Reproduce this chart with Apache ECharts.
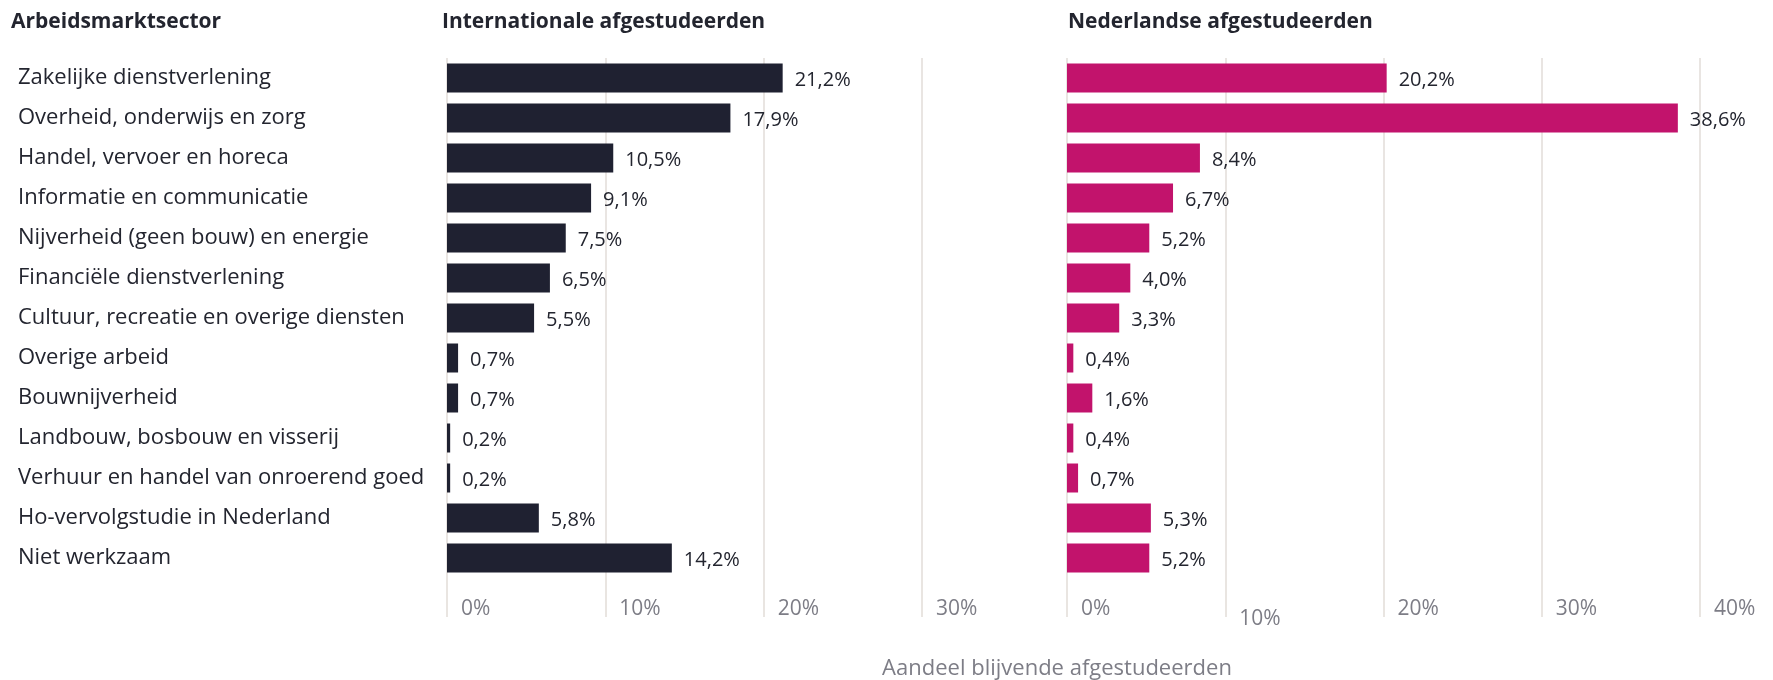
<!DOCTYPE html>
<html>
<head>
<meta charset="utf-8">
<script src="https://cdn.jsdelivr.net/npm/echarts@6/dist/echarts.min.js"></script>
<style>
  html, body { margin: 0; padding: 0; background: #fff; }
  #chart { width: 1773px; height: 680px; }
</style>
</head>
<body>
<div id="chart"></div>
<script>
const sectors = [
    'Zakelijke dienstverlening',
    'Overheid, onderwijs en zorg',
    'Handel, vervoer en horeca',
    'Informatie en communicatie',
    'Nijverheid (geen bouw) en energie',
    'Financiële dienstverlening',
    'Cultuur, recreatie en overige diensten',
    'Overige arbeid',
    'Bouwnijverheid',
    'Landbouw, bosbouw en visserij',
    'Verhuur en handel van onroerend goed',
    'Ho-vervolgstudie in Nederland',
    'Niet werkzaam'
];
const international = [21.2, 17.9, 10.5, 9.1, 7.5, 6.5, 5.5, 0.7, 0.7, 0.2, 0.2, 5.8, 14.2];
const nederlands = [20.2, 38.6, 8.4, 6.7, 5.2, 4.0, 3.3, 0.4, 1.6, 0.4, 0.7, 5.3, 5.2];
const ticksLeft = [0, 10, 20, 30];
const ticksRight = [0, 10, 20, 30, 40];

const font = '"Open Sans", "Noto Sans", sans-serif';
const gridColor = '#e2ddd8';
const textColor = '#23252f';
const tickColor = '#7d7d86';

function pct(v) {
    return v.toFixed(1).replace('.', ',') + '%';
}

function valueAxis(gridIndex, max, lowTen) {
    return {
        type: 'value',
        gridIndex: gridIndex,
        min: 0,
        max: max,
        interval: 10,
        axisLine: { show: false },
        axisTick: {
            show: true,
            length: 39,
            lineStyle: { color: gridColor, width: 1.5 }
        },
        splitLine: {
            show: true,
            lineStyle: { color: gridColor, width: 1.5 }
        },
        axisLabel: {
            margin: 21,
            align: 'left',
            padding: [0, 0, 0, 14],
            color: tickColor,
            fontFamily: font,
            fontSize: 21,
            formatter: function (v) {
                // the 10% label of the second panel sits a bit lower in the original
                if (lowTen && v === 10) return '{low|' + v + '%}';
                return v + '%';
            },
            rich: {
                low: { padding: [10, 0, 0, 0], color: tickColor, fontFamily: font, fontSize: 21 }
            }
        }
    };
}

function barLabel() {
    return {
        show: true,
        position: 'right',
        distance: 12,
        offset: [0, 2],
        color: textColor,
        fontFamily: font,
        fontSize: 20,
        formatter: p => pct(p.value)
    };
}

const myChart = echarts.init(document.getElementById('chart'));
myChart.setOption({
    animation: false,
    title: [
        { text: 'Arbeidsmarktsector', left: 11, top: 12 },
        { text: 'Internationale afgestudeerden', left: 442, top: 12 },
        { text: 'Nederlandse afgestudeerden', left: 1068, top: 12 },
        {
            text: 'Aandeel blijvende afgestudeerden', left: 1057, top: 658, textAlign: 'center',
            textStyle: { color: tickColor, fontFamily: font, fontSize: 22, fontWeight: 'normal' }
        }
    ].map(t => Object.assign({
        padding: 0,
        textStyle: { color: textColor, fontFamily: font, fontSize: 21, fontWeight: 'bold' }
    }, t)),
    grid: [
        { left: 447, top: 58, width: 475, height: 520 },
        { left: 1067, top: 58, width: 633, height: 520 }
    ],
    xAxis: [
        valueAxis(0, ticksLeft[ticksLeft.length - 1], false),
        valueAxis(1, ticksRight[ticksRight.length - 1], true)
    ],
    yAxis: [
        {
            type: 'category',
            gridIndex: 0,
            data: sectors,
            inverse: true,
            axisLine: { show: false },
            axisTick: { show: false },
            axisLabel: {
                align: 'left',
                margin: 429,
                padding: [4, 0, 0, 0],
                color: textColor,
                fontFamily: font,
                fontSize: 22
            }
        },
        {
            type: 'category',
            gridIndex: 1,
            data: sectors,
            inverse: true,
            axisLine: { show: false },
            axisTick: { show: false },
            axisLabel: { show: false }
        }
    ],
    series: [
        {
            type: 'bar',
            xAxisIndex: 0,
            yAxisIndex: 0,
            data: international,
            barWidth: 29,
            itemStyle: { color: '#1f2131' },
            label: barLabel()
        },
        {
            type: 'bar',
            xAxisIndex: 1,
            yAxisIndex: 1,
            data: nederlands,
            barWidth: 29,
            itemStyle: { color: '#c2136c' },
            label: barLabel()
        }
    ]
});
</script>
</body>
</html>
